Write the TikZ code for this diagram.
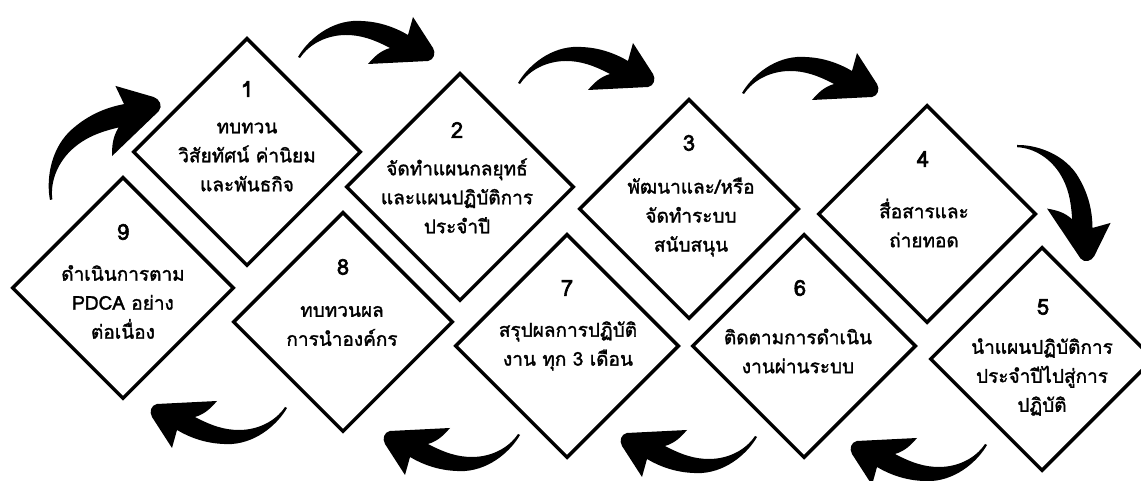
\documentclass[tikz,border=0pt]{standalone}
\usepackage{fontspec}
\setmainfont{Loma}[Script=Thai]
\newfontfamily\medfont{Loma}[Script=Thai, FakeBold=1.6]
\newfontfamily\numfont{Loma}[Script=Thai, FakeBold=2.6]
\usetikzlibrary{shapes.geometric}
\begin{document}
\begin{tikzpicture}[x=1pt,y=1pt,
  box/.style={diamond, draw=black, line width=3.5pt, fill=white, inner sep=0pt, aspect=1, minimum width=#1, minimum height=#1},
  num/.style={font=\numfont\fontsize{22}{25}\selectfont, inner sep=0pt},
  txt/.style={font=\medfont\fontsize{19}{29}\selectfont, align=center, inner sep=0pt},
  bigarrow/.pic={\fill[black] (0,0) .. controls (8,14) and (28,34) .. (55,36)
      .. controls (80,37) and (98,29) .. (110,22)
      -- (115,40) -- (135,9)
      .. controls (138,4) and (136,-3) .. (130,-4)
      -- (70,-7)
      .. controls (76,0) and (82,6) .. (92,9)
      .. controls (75,18) and (62,22) .. (48,22)
      .. controls (30,22) and (12,14) .. (2,-1) -- cycle;}
]
\fill[white] (0,0) rectangle (1141,481);
\useasboundingbox (0,0) rectangle (1141,481);

% diamonds
\node[box=228] (d1) at (247,329) {};
\node[box=228] (d2) at (460,294) {};
\node[box=220] (d3) at (689,272) {};
\node[box=218] (d4) at (927,267) {};
\node[box=224] (d5) at (1042,122) {};
\node[box=224] (d6) at (804,135) {};
\node[box=224] (d7) at (567,135) {};
\node[box=220] (d8) at (343,159) {};
\node[box=222] (d9) at (123,193) {};

% numbers
\node[num] (n1) at (247,392) {1};
\node[num] (n2) at (457,351) {2};
\node[num] (n3) at (689,338) {3};
\node[num] (n4) at (923,322) {4};
\node[num] (n5) at (1043,174) {5};
\node[num] (n6) at (800,193) {6};
\node[num] (n7) at (567,193) {7};
\node[num] (n8) at (343,214) {8};
\node[num] (n9) at (123,249) {9};

% texts
\node[txt] (t1) at (247,324) {ทบทวน\\วิสัยทัศน์ ค่านิยม\\และพันธกิจ};
\node[txt] (t2) at (457,285) {จัดทำแผนกลยุทธ์\\และแผนปฏิบัติการ\\ประจำปี};
\node[txt] (t3) at (691,264) {พัฒนาและ/หรือ\\จัดทำระบบ\\สนับสนุน};
\node[txt] (t4) at (924,258) {สื่อสารและ\\ถ่ายทอด};
\node[txt] (t5) at (1042,104) {นำแผนปฏิบัติการ\\ประจำปีไปสู่การ\\ปฏิบัติ};
\node[txt] (t6) at (798,130) {ติดตามการดำเนิน\\งานผ่านระบบ};
\node[txt] (t7) at (568,135) {สรุปผลการปฏิบัติ\\งาน ทุก 3 เดือน};
\node[txt] (t8) at (342,155) {ทบทวนผล\\การนำองค์กร};
\node[txt] (t9) at (123,179) {ดำเนินการตาม\\PDCA อย่าง\\ต่อเนื่อง};

% arrows
\pic[rotate=41, scale=1.08] (a1) at (50,281) {bigarrow};
\pic (a2) at (298,424) {bigarrow};
\pic (a3) at (518,398) {bigarrow};
\pic (a4) at (742,388) {bigarrow};
\pic[rotate=-59] (a5) at (1017,336) {bigarrow};
\pic[rotate=180] (a6) at (987,36) {bigarrow};
\pic[rotate=180] (a7) at (757,44) {bigarrow};
\pic[rotate=180] (a8) at (520,46) {bigarrow};
\pic[rotate=180] (a9) at (287,73) {bigarrow};
\end{tikzpicture}
\end{document}
